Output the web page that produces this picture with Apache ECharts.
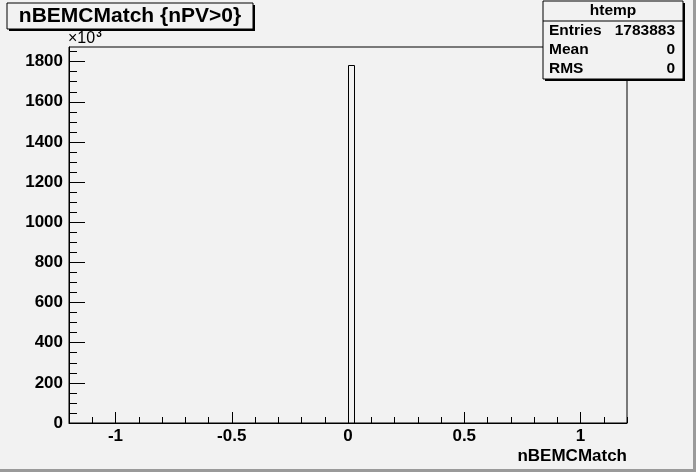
<!DOCTYPE html>
<html><head><meta charset="utf-8">
<script src="https://cdn.jsdelivr.net/npm/echarts@6/dist/echarts.min.js"></script>
<style>html,body{margin:0;padding:0;background:#f2f2f2}#c{width:696px;height:472px}</style>
</head><body><div id="c"></div>
<script>
// Histogram data (counts in units of 10^3)
const binLow = [0];
const binHigh = [0.024];
const binCounts = [1783.883];
const xMajorTicks = [-1, -0.5, 0, 0.5, 1];
const xMinorTicks = [-1.2,-1.1,-0.9,-0.8,-0.7,-0.6,-0.4,-0.3,-0.2,-0.1,0.1,0.2,0.3,0.4,0.6,0.7,0.8,0.9,1.1,1.2];
const yMajorTicks = [0,200,400,600,800,1000,1200,1400,1600,1800];
const yMinorTicks = [50,100,150,250,300,350,450,500,550,650,700,750,850,900,950,1050,1100,1150,1250,1300,1350,1450,1500,1550,1650,1700,1750,1850];
const titleText = 'nBEMCMatch {nPV>0}';
const xTitle = 'nBEMCMatch';
const statsName = 'htemp';
const statsRows = [['Entries','1783883'],['Mean','0'],['RMS','0']];

const FONT = '"Liberation Sans", Arial, Helvetica, sans-serif';
const chart = echarts.init(document.getElementById('c'));
const histData = binLow.map((l,i)=>[l, binHigh[i], binCounts[i]]);
const lab = {fontFamily: FONT, fontWeight:'bold', fontSize:17, color:'#000'};

const statsGraphics = [];
const sx = 543, sy = 1, sw = 140, sh = 78;
const sFont = {fontFamily:FONT, fontWeight:'bold', fontSize:15.5, fill:'#000', verticalAlign:'middle'};
statsGraphics.push({type:'rect', shape:{x:sx+2,y:sy+2,width:sw,height:sh}, style:{fill:'#000'}, z:100});
statsGraphics.push({type:'rect', shape:{x:sx,y:sy,width:sw,height:sh}, style:{fill:'#f2f2f2', stroke:'#000', lineWidth:1}, z:101});
statsGraphics.push({type:'line', shape:{x1:sx,y1:21,x2:sx+sw,y2:21}, style:{stroke:'#000', lineWidth:1}, z:102});
statsGraphics.push({type:'text', x:sx+sw/2, y:11, style:{text:statsName, ...sFont, align:'center'}, z:103});
statsRows.forEach((r,i)=>{
  const yy = 31 + i*19;
  statsGraphics.push({type:'text', x:sx+6, y:yy, style:{text:r[0], ...sFont, align:'left'}, z:103});
  statsGraphics.push({type:'text', x:sx+sw-8, y:yy, style:{text:r[1], ...sFont, align:'right'}, z:103});
});

const option = {
  backgroundColor:'#f2f2f2',
  animation:false,
  grid:{left:69, top:47, right:69, bottom:49, show:true, borderColor:'#000', borderWidth:1, backgroundColor:'transparent'},
  xAxis:[
    {type:'value', min:-1.2, max:1.2, position:'bottom',
     axisLine:{show:true, onZero:false, lineStyle:{color:'#000', width:1}},
     axisTick:{show:true, inside:true, length:11, customValues:xMajorTicks, lineStyle:{color:'#000'}},
     axisLabel:{show:true, customValues:xMajorTicks, margin:5, ...lab, formatter:v=>String(v)},
     splitLine:{show:false}},
    {type:'value', min:-1.2, max:1.2, position:'bottom',
     axisLine:{show:false, onZero:false},
     axisTick:{show:true, inside:true, length:6, customValues:xMinorTicks, lineStyle:{color:'#000'}},
     axisLabel:{show:false}, splitLine:{show:false}}
  ],
  yAxis:[
    {type:'value', min:0, max:1873, position:'left',
     axisLine:{show:true, onZero:false, lineStyle:{color:'#000', width:1}},
     axisTick:{show:true, inside:true, length:16, customValues:yMajorTicks, lineStyle:{color:'#000'}},
     axisLabel:{show:true, customValues:yMajorTicks, margin:6, ...lab, formatter:v=>String(v)},
     splitLine:{show:false}},
    {type:'value', min:0, max:1873, position:'left',
     axisLine:{show:false, onZero:false},
     axisTick:{show:true, inside:true, length:8, customValues:yMinorTicks, lineStyle:{color:'#000'}},
     axisLabel:{show:false}, splitLine:{show:false}}
  ],
  series:[{
    type:'custom', xAxisIndex:0, yAxisIndex:0, data:histData,
    renderItem:(params, api)=>{
      const p0 = api.coord([api.value(0), 0]);
      const p1 = api.coord([api.value(1), api.value(2)]);
      return {type:'rect', shape:{x:Math.round(p0[0])+0.5, y:Math.round(p1[1])+0.5, width:Math.round(p1[0]-p0[0]), height:Math.round(p0[1]-p1[1])},
        style:{fill:'transparent', stroke:'#000', lineWidth:1}};
    }
  }],
  graphic:[
    {type:'rect', shape:{x:0,y:469,width:696,height:3}, style:{fill:'#9a9a9a'}, z:50},
    {type:'rect', shape:{x:693,y:0,width:3,height:472}, style:{fill:'#9a9a9a'}, z:50},
    {type:'rect', shape:{x:9,y:5,width:246,height:26}, style:{fill:'#000'}, z:100},
    {type:'rect', shape:{x:7,y:3,width:246,height:26}, style:{fill:'#f2f2f2', stroke:'#000', lineWidth:1}, z:101},
    {type:'text', x:130, y:16, style:{text:titleText, fontFamily:FONT, fontWeight:'bold', fontSize:21, fill:'#000', align:'center', verticalAlign:'middle'}, z:102},
    {type:'text', x:68, y:39, style:{text:'{a|\u00d710}{b|3}', rich:{a:{fontFamily:FONT, fontSize:16, fill:'#000'}, b:{fontFamily:FONT, fontWeight:'bold', fontSize:10, fill:'#000', verticalAlign:'top', padding:[0,0,9,1]}}, verticalAlign:'middle'}, z:102},
    {type:'text', x:627, y:456, style:{text:xTitle, fontFamily:FONT, fontWeight:'bold', fontSize:17, fill:'#000', align:'right', verticalAlign:'middle'}, z:102},
    ...statsGraphics
  ]
};
chart.setOption(option);
</script></body></html>
